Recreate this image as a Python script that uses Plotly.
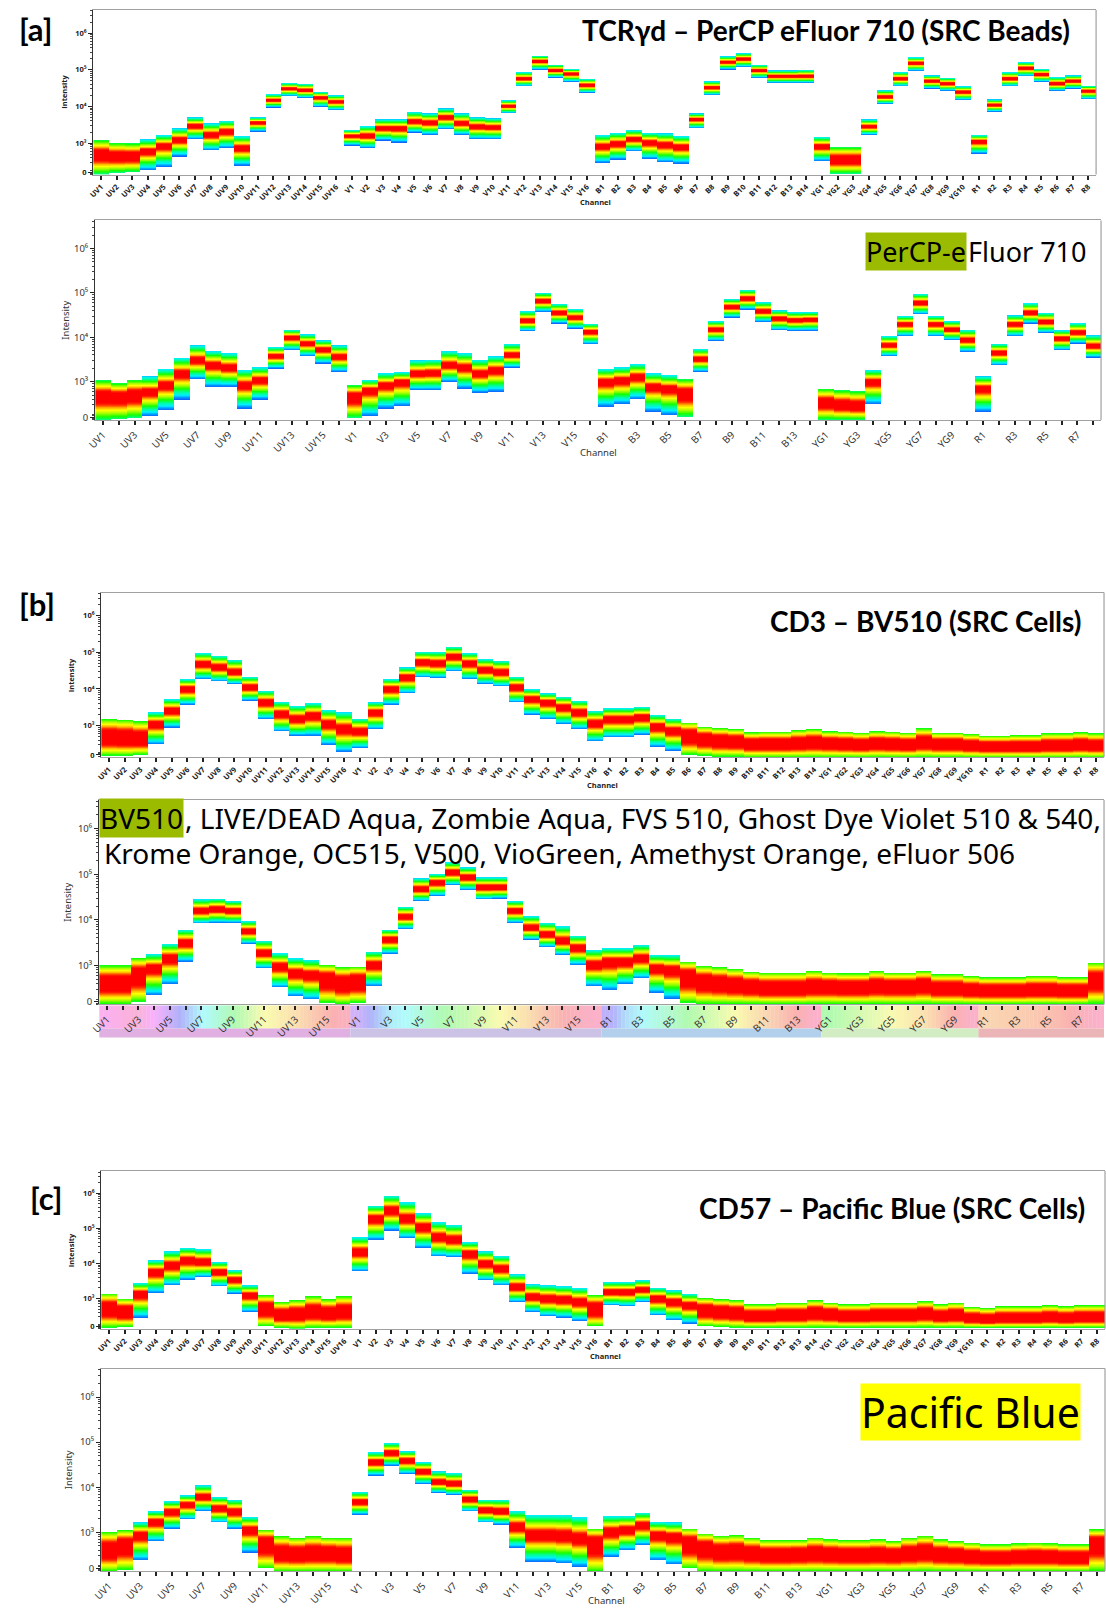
import colorsys
import numpy as np
import plotly.graph_objects as go

W, H = 1106, 1611

channels = ["UV1", "UV2", "UV3", "UV4", "UV5", "UV6", "UV7", "UV8", "UV9", "UV10", "UV11", "UV12",
            "UV13", "UV14", "UV15", "UV16",
            "V1", "V2", "V3", "V4", "V5", "V6", "V7", "V8", "V9", "V10", "V11", "V12", "V13", "V14",
            "V15", "V16",
            "B1", "B2", "B3", "B4", "B5", "B6", "B7", "B8", "B9", "B10", "B11", "B12", "B13", "B14",
            "YG1", "YG2", "YG3", "YG4", "YG5", "YG6", "YG7", "YG8", "YG9", "YG10",
            "R1", "R2", "R3", "R4", "R5", "R6", "R7", "R8"]
lasers = ["UV"] * 16 + ["V"] * 16 + ["B"] * 14 + ["YG"] * 10 + ["R"] * 8

# ---------------- [a] TCRgd - PerCP eFluor 710 (SRC Beads) ----------------
a1_high = [1230, 1040, 1000, 1280, 1680, 2540, 5050, 3470, 4100, 1580, 5050, 21500, 43600, 41900, 24900, 20200,
           2290, 2940, 4450, 4450, 7180, 6470, 8830, 6470, 5050, 4740, 14800, 86500, 244000, 139000, 106000, 57100,
           1680, 1940, 2290, 1940, 1860, 1580, 6470, 48400, 234000, 282000, 136000, 95900, 95900, 100000,
           1510, 780, 780, 4450, 27600, 86500, 220000, 70300, 60800, 35500,
           1680, 15500, 86500, 161000, 106000, 63400, 70300, 37000]
a1_mid = [484, 436, 436, 596, 847, 1230, 2940, 1680, 2070, 733, 3620, 14800, 30600, 27600, 17500, 13400,
          1580, 1580, 2540, 2540, 3850, 3620, 5050, 3470, 2820, 2700, 10200, 57100, 171000, 95900, 78000, 37800,
          813, 960, 1280, 1040, 902, 780, 4450, 32700, 161000, 198000, 95900, 66100, 66100, 66100,
          813, 355, 355, 2820, 18200, 57100, 151000, 49400, 41900, 24900,
          1110, 10900, 57100, 111000, 74800, 41900, 49400, 26500]
a1_low = [140, 155, 161, 182, 224, 436, 1280, 634, 733, 244, 2070, 9400, 19000, 17100, 9800, 7960,
          865, 733, 1180, 1040, 1940, 1680, 2390, 1680, 1280, 1280, 6470, 35500, 100000, 60800, 46500, 23400,
          288, 355, 596, 370, 300, 276, 2540, 20200, 102000, 118000, 59600, 43600, 43600, 43600,
          320, 148, 148, 1680, 11600, 35500, 92000, 30600, 26500, 14800,
          515, 7180, 35500, 66100, 46500, 26500, 30600, 15800]

# ---------------- PerCP-eFluor 710 reference ----------------
a2_high = [1090, 950, 1130, 1340, 2000, 3520, 6670, 4980, 4490, 1890, 2170, 6120, 15000, 11800, 8630, 6670,
           841, 1130, 1590, 1680, 3070, 3180, 4980, 4490, 3180, 3780, 7260, 39400, 102000, 57500, 44400, 20500,
           2000, 2170, 2580, 1590, 1460, 1150, 5620, 23500, 74700, 119000, 62800, 40700, 37400, 37400,
           708, 650, 617, 1890, 10800, 30400, 96600, 30400, 23500, 15000,
           1340, 7260, 31500, 59600, 36100, 14500, 21200, 11200]
a2_mid = [476, 460, 501, 596, 841, 1540, 3070, 2370, 2100, 841, 1090, 3780, 9910, 7260, 5330, 3650,
          460, 650, 841, 1000, 1540, 1590, 2370, 2100, 1540, 1830, 3970, 23500, 66100, 35500, 27900, 13300,
          1000, 1090, 1300, 773, 708, 547, 3230, 15000, 48400, 74700, 38700, 26500, 24300, 25200,
          337, 299, 284, 1000, 6670, 19800, 59600, 19800, 15000, 8630,
          708, 4490, 19800, 35500, 22300, 9420, 12800, 6320]
a2_low = [138, 143, 155, 169, 231, 401, 1150, 773, 773, 252, 401, 2000, 5150, 3780, 2580, 1680,
          155, 169, 252, 284, 650, 650, 1000, 708, 566, 596, 2100, 13800, 37400, 20500, 15800, 7020,
          274, 315, 408, 212, 178, 163, 1680, 8340, 27900, 42200, 22300, 14500, 14000, 14000,
          138, 138, 138, 315, 3780, 10600, 33200, 10600, 8630, 4720,
          212, 2370, 10600, 20500, 12600, 5150, 7260, 3520]

# ---------------- [b] CD3 - BV510 (SRC Cells) ----------------
b1_high = [1520, 1460, 1310, 2310, 5340, 18700, 95900, 81100, 63100, 21700, 9010, 4520, 3510, 4150, 2670, 2310,
           1580, 4330, 18700, 39000, 104000, 104000, 143000, 95900, 65800, 59300, 21700, 10000, 7620, 6180, 4810, 2570,
           3030, 3030, 3300, 2000, 1580, 1230, 939, 864, 811, 658, 686, 686, 762, 811,
           700, 686, 644, 700, 686, 644, 845, 644, 644, 593,
           533, 533, 556, 556, 618, 618, 658, 618]
b1_mid = [481, 461, 433, 1110, 2570, 10000, 48100, 39000, 28500, 11100, 4330, 2080, 1520, 1870, 1110, 811,
          700, 2310, 10000, 20800, 53400, 50100, 76200, 50100, 33000, 28500, 11100, 5340, 4330, 3160, 2310, 1160,
          1520, 1520, 1690, 939, 731, 533, 433, 390, 374, 316, 316, 316, 330, 351,
          330, 316, 303, 330, 316, 303, 351, 316, 316, 285,
          267, 267, 267, 267, 285, 285, 303, 285]
b1_low = [152, 152, 162, 316, 901, 3740, 18700, 16200, 13700, 4810, 1520, 700, 533, 533, 303, 195,
          246, 811, 3740, 7620, 20800, 19900, 30300, 18700, 13700, 11800, 4330, 2000, 1520, 1110, 811, 374,
          481, 481, 569, 267, 208, 162, 152, 143, 143, 137, 137, 137, 137, 137,
          137, 137, 137, 137, 137, 137, 137, 137, 137, 137,
          137, 137, 137, 137, 137, 137, 137, 137]

# ---------------- BV510 reference ----------------
b2_high = [1000, 1000, 1450, 1810, 3010, 6150, 28400, 29400, 26100, 9400, 3510, 1870, 1450, 1330, 1030, 919,
           951, 2040, 6150, 19500, 81300, 101000, 184000, 142000, 85500, 85500, 26100, 12100, 8650, 7290, 4530, 2220,
           2420, 2420, 2860, 1720, 1720, 1220, 984, 919, 844, 736, 700, 700, 700, 762,
           700, 676, 676, 762, 700, 700, 762, 643, 643, 591,
           552, 552, 552, 591, 591, 552, 552, 1160]
b2_mid = [406, 406, 623, 873, 1450, 3120, 15700, 17100, 15700, 5650, 1870, 951, 676, 623, 499, 406,
          443, 1030, 3700, 11700, 47200, 66400, 110000, 85500, 51400, 51400, 15700, 6700, 4760, 3400, 2420, 1030,
          1220, 1220, 1450, 873, 802, 571, 443, 406, 373, 343, 315, 315, 315, 343,
          343, 332, 332, 355, 343, 343, 373, 315, 315, 290,
          280, 280, 280, 290, 290, 280, 280, 482]
b2_low = [142, 142, 160, 224, 393, 1220, 8350, 8650, 8650, 3010, 873, 332, 213, 180, 152, 142,
          152, 355, 1810, 6370, 26100, 33600, 57900, 45600, 28400, 29400, 8650, 3700, 2550, 1720, 1030, 355,
          290, 393, 525, 253, 189, 152, 142, 142, 142, 142, 142, 142, 142, 142,
          142, 142, 142, 142, 142, 142, 142, 142, 142, 142,
          142, 142, 142, 142, 142, 142, 142, 142]

# ---------------- [c] CD57 - Pacific Blue (SRC Cells) ----------------
c1_high = [1390, 1000, 2780, 12200, 22000, 28000, 25700, 11000, 6370, 2390, 1240, 804, 897, 1160, 957, 1160,
           56200, 446000, 857000, 555000, 270000, 150000, 126000, 40500, 22000, 16300, 4910, 2550, 2390, 2240, 2010, 1240,
           2970, 2970, 3310, 2050, 1730, 1390, 1040, 957, 897, 690, 690, 769, 769, 897,
           769, 690, 690, 769, 769, 769, 840, 690, 769, 580,
           543, 606, 606, 606, 647, 606, 647, 647]
c1_mid = [520, 419, 1390, 5710, 8830, 12200, 11000, 5710, 3460, 1240, 520, 336, 359, 419, 375, 419,
          21100, 187000, 321000, 187000, 108000, 56200, 47300, 18900, 9840, 7100, 2140, 1110, 1000, 937, 804, 520,
          1550, 1550, 1800, 1000, 804, 647, 467, 419, 392, 315, 315, 336, 336, 392,
          359, 315, 315, 336, 336, 336, 375, 315, 336, 270,
          253, 270, 270, 270, 289, 270, 289, 289]
c1_low = [150, 157, 289, 1450, 2390, 3460, 4120, 2240, 1390, 419, 164, 150, 141, 150, 150, 150,
          5970, 47300, 86900, 52700, 28000, 15900, 15200, 5130, 3310, 2390, 804, 419, 315, 289, 232, 164,
          647, 606, 804, 336, 243, 195, 164, 157, 150, 150, 150, 150, 150, 150,
          150, 150, 150, 150, 150, 150, 150, 150, 150, 150,
          150, 150, 150, 150, 150, 150, 150, 150]

# ---------------- Pacific Blue reference ----------------
c2_high = [1030, 1130, 1660, 2950, 4900, 6640, 11000, 6100, 5320, 2210, 1160, 830, 763, 830, 763, 763,
           7850, 59600, 95700, 62700, 35900, 22400, 20600, 8830, 5320, 5320, 3000, 2450, 2450, 2450, 2210, 1220,
           2330, 2330, 2760, 1720, 1660, 1220, 951, 845, 873, 763, 678, 678, 678, 763,
           701, 678, 678, 701, 644, 763, 845, 701, 644, 593,
           545, 545, 573, 593, 573, 545, 545, 1180]
c2_mid = [408, 526, 873, 1720, 2850, 4130, 6100, 3380, 2850, 1130, 573, 345, 328, 345, 345, 317,
          4730, 35900, 57700, 39100, 22400, 13000, 12000, 5420, 3100, 2950, 1330, 873, 873, 845, 738, 573,
          1030, 1130, 1450, 873, 803, 573, 460, 375, 388, 345, 317, 317, 328, 345,
          328, 317, 317, 328, 317, 345, 375, 328, 317, 291,
          277, 277, 291, 291, 291, 277, 277, 573]
c2_low = [136, 148, 246, 644, 1220, 1960, 3000, 1660, 1220, 363, 161, 136, 136, 136, 136, 136,
          2490, 18300, 30300, 19900, 12000, 7590, 6850, 2950, 1660, 1500, 460, 226, 226, 208, 176, 136,
          291, 408, 526, 246, 198, 161, 136, 136, 136, 136, 136, 136, 136, 136,
          136, 136, 136, 136, 136, 136, 136, 136, 136, 136,
          136, 136, 136, 136, 136, 136, 136, 136]

for arr in [a1_high, a1_mid, a1_low, a2_high, a2_mid, a2_low, b1_high, b1_mid, b1_low,
            b2_high, b2_mid, b2_low, c1_high, c1_mid, c1_low, c2_high, c2_mid, c2_low]:
    assert len(arr) == len(channels), len(arr)

y_tick_vals = [1e3, 1e4, 1e5, 1e6]
y_tick_text = ["10³", "10⁴", "10⁵", "10⁶"]


def px(x):
    return x / W


def py(y):
    return 1 - y / H


Y_MIN, Y_MAX = 2.14, 6.63
ZERO_POS = 2.2
ygrid = np.round(np.arange(Y_MIN, Y_MAX + 1e-9, 0.005), 4)

COLORSCALE = [[0.00, "#1060ff"], [0.08, "#0098ff"], [0.17, "#00f0ff"], [0.30, "#00ff90"],
              [0.42, "#18ff00"], [0.55, "#b0ff00"], [0.64, "#ffff00"], [0.72, "#ffb000"],
              [0.80, "#ff3000"], [0.86, "#ff0000"], [1.00, "#ff0000"]]

BEAD = {"normal": (0.0, 0.13, 1.0), "cut": (0.30, 0.34, 1.25)}
CELL = {"normal": (0.02, 0.15, 1.1), "cut": (0.38, 0.40, 1.5)}


def band_matrix(low, mid, high, prof):
    lo = np.log10(np.asarray(low, float))
    c = np.log10(np.asarray(mid, float))
    hi = np.log10(np.asarray(high, float))
    Z = np.full((len(ygrid), len(lo)), np.nan)
    for j in range(len(lo)):
        eb, et, p = prof["cut"] if low[j] <= 165 else prof["normal"]
        below = (ygrid >= lo[j]) & (ygrid <= c[j])
        above = (ygrid > c[j]) & (ygrid <= hi[j])
        d = (c[j] - ygrid[below]) / max(c[j] - lo[j], 1e-6)
        Z[below, j] = 1 - (1 - eb) * d ** p
        d = (ygrid[above] - c[j]) / max(hi[j] - c[j], 1e-6)
        Z[above, j] = 1 - (1 - et) * d ** p
    return [[None if np.isnan(v) else round(float(v), 3) for v in row] for row in Z]


panels = [
    dict(low=a1_low, mid=a1_mid, high=a1_high, box=(84, 10, 1096, 175), prof=BEAD, full=True,
         ylab=55, chan=(591, 203)),
    dict(low=a2_low, mid=a2_mid, high=a2_high, box=(86, 221, 1101, 421), prof=BEAD, full=False,
         ylab=56, chan=(594, 454)),
    dict(low=b1_low, mid=b1_mid, high=b1_high, box=(92, 594, 1104, 759), prof=CELL, full=True,
         ylab=61, chan=(598, 787)),
    dict(low=b2_low, mid=b2_mid, high=b2_high, box=(90, 802, 1104, 1007), prof=CELL, full=False,
         ylab=58, chan=None),
    dict(low=c1_low, mid=c1_mid, high=c1_high, box=(92, 1174, 1105, 1332), prof=CELL, full=True,
         ylab=61, chan=(601, 1359)),
    dict(low=c2_low, mid=c2_mid, high=c2_high, box=(92, 1372, 1105, 1575), prof=CELL, full=False,
         ylab=59, chan=(602, 1604)),
]

minor_vals = ([np.log10(k * 10 ** n) for n in (3, 4, 5) for k in range(2, 10)]
              + [np.log10(k * 1e6) for k in (2, 3, 4)]
              + [np.log10(k * 100) for k in range(3, 10)]
              + [2.15, 2.17, 2.24, 2.26])

fig = go.Figure()
shapes = []
annotations = []
xs = list(range(len(channels)))

for i, pnl in enumerate(panels, start=1):
    sfx = "" if i == 1 else str(i)
    x0, y0, x1, y1 = pnl["box"]
    fig.add_trace(go.Heatmap(
        x=xs, y=ygrid, z=band_matrix(pnl["low"], pnl["mid"], pnl["high"], pnl["prof"]),
        colorscale=COLORSCALE, zmin=0, zmax=1, showscale=False, hoverinfo="skip",
        xaxis="x" + sfx, yaxis="y" + sfx))
    full = pnl["full"]
    if full:
        tick_text = channels
        tfont = dict(family="Open Sans", size=7.5, color="#222", weight="bold")
        yfont = dict(family="Open Sans", size=7.5, color="#222", weight="bold")
        lab_font = dict(family="Open Sans", size=7.5, color="#222", weight="bold")
    else:
        tick_text = [c if k % 2 == 0 else "" for k, c in enumerate(channels)]
        tfont = dict(family="Noto Sans", size=10, color="#333")
        yfont = dict(family="Noto Sans", size=9.5, color="#333")
        lab_font = dict(family="Noto Sans", size=9.5, color="#333")
    fig.layout["xaxis" + sfx] = dict(
        domain=[px(x0), px(x1)], anchor="y" + sfx, range=[-0.5, len(channels) - 0.5],
        tickmode="array", tickvals=xs, ticktext=tick_text, tickangle=-45, tickfont=tfont,
        ticks="outside", ticklen=4, tickwidth=1.5, tickcolor="#222",
        showline=True, linecolor="#a0a0a0", linewidth=1.2, mirror=True,
        showgrid=False, zeroline=False, fixedrange=True)
    fig.layout["yaxis" + sfx] = dict(
        domain=[py(y1), py(y0)], anchor="x" + sfx, range=[Y_MIN, Y_MAX],
        tickmode="array", tickvals=[ZERO_POS] + [float(np.log10(v)) for v in y_tick_vals],
        ticktext=["0"] + y_tick_text, tickfont=yfont,
        ticks="outside", ticklen=4, tickwidth=1.3, tickcolor="#222",
        minor=dict(tickmode="array", tickvals=minor_vals, ticks="outside", ticklen=2,
                   tickwidth=1, tickcolor="#444"),
        showline=True, linecolor="#333", linewidth=1.3, mirror=False,
        showgrid=False, zeroline=False, fixedrange=True)
    shapes.append(dict(type="line", xref="x%s domain" % sfx, yref="y%s domain" % sfx,
                       x0=1, x1=1, y0=0, y1=1, line=dict(color="#a0a0a0", width=1.2)))
    annotations.append(dict(xref="paper", yref="y%s domain" % sfx, x=px(pnl["ylab"]), y=0.5,
                            text="Intensity", textangle=-90, showarrow=False,
                            xanchor="center", yanchor="middle", font=lab_font))
    if pnl["chan"] is not None:
        cx, cy = pnl["chan"]
        annotations.append(dict(xref="paper", yref="paper", x=px(cx), y=py(cy), text="Channel",
                                showarrow=False, xanchor="center", yanchor="middle", font=lab_font))

# ---- laser / wavelength strip under the BV510 reference panel ----
hue_anchors = {
    "UV": ([0, 2, 4, 5, 6, 8, 10, 12, 15], [310, 330, 265, 225, 185, 125, 62, 38, -10]),
    "V": ([0, 1, 2, 3, 5, 7, 9, 11, 13, 15], [265, 230, 192, 180, 130, 100, 60, 35, 0, -20]),
    "B": ([0, 1, 2, 4, 6, 8, 10, 12, 13], [250, 205, 182, 140, 100, 60, 30, 0, -20]),
    "YG": ([0, 2, 4, 6, 8, 9], [120, 90, 60, 40, 0, -20]),
    "R": ([0, 3, 5, 7], [30, 20, 5, -20]),
}
group_color = {"UV": "#e0b0e2", "V": "#cbc2e6", "B": "#b2d0ec", "YG": "#d2ecc4", "R": "#ebb4b6"}
strip_top, strip_mid, strip_bot = 1008, 1031, 1040
local = {}
for k, las in enumerate(lasers):
    local.setdefault(las, []).append(k)
for las, idxs in local.items():
    pos, hues = hue_anchors[las]
    for n, k in enumerate(idxs):
        for s in range(4):
            p = n - 0.5 + (s + 0.5) / 4
            h = (np.interp(p, pos, hues) % 360) / 360.0
            r, g, b = colorsys.hls_to_rgb(h, 0.84, 0.9)
            col = "rgb(%d,%d,%d)" % (r * 255, g * 255, b * 255)
            shapes.append(dict(type="rect", xref="x4", yref="paper", layer="below",
                               x0=k - 0.5 + s / 4, x1=k - 0.5 + (s + 1) / 4 + 0.02,
                               y0=py(strip_mid), y1=py(strip_top),
                               fillcolor=col, line=dict(width=0)))
    shapes.append(dict(type="rect", xref="x4", yref="paper", layer="below",
                       x0=idxs[0] - 0.5, x1=idxs[-1] + 0.5, y0=py(strip_bot), y1=py(strip_mid),
                       fillcolor=group_color[las], line=dict(width=0)))


def text(x, y, s, size, anchor="left", bold=False, family="Noto Sans", bg=None):
    d = dict(xref="paper", yref="paper", x=px(x), y=py(y), text=s, showarrow=False,
             xanchor=anchor, yanchor="middle", borderpad=0,
             font=dict(family=family, size=size, color="black", weight="bold" if bold else "normal"))
    if bg:
        d["bgcolor"] = bg
    annotations.append(d)


HL_GREEN = "#9bbb00"
text(8, 29, "[a]", 31, bold=True, family="Lato")
text(1071, 30, "TCRγd – PerCP eFluor 710 (SRC Beads)", 28, anchor="right", bold=True, family="Lato")
text(966, 252, "PerCP-e", 27, anchor="right", bg=HL_GREEN)
text(966, 252, "Fluor 710", 27, anchor="left")
text(8, 606, "[b]", 31, bold=True, family="Lato")
text(1082, 623, "CD3 – BV510 (SRC Cells)", 28, anchor="right", bold=True, family="Lato")
text(176, 820, "BV510", 28, anchor="right", bg=HL_GREEN)
text(176, 820, ", LIVE/DEAD Aqua, Zombie Aqua, FVS 510, Ghost Dye Violet 510 & 540,", 28, anchor="left")
text(94, 855, "Krome Orange, OC515, V500, VioGreen, Amethyst Orange, eFluor 506", 28, anchor="left")
text(19, 1201, "[c]", 31, bold=True, family="Lato")
text(1086, 1211, "CD57 – Pacific Blue (SRC Cells)", 28, anchor="right", bold=True, family="Lato")
text(1081, 1416, "Pacific Blue", 41, anchor="right", bg="#ffff00")

fig.update_layout(
    width=W, height=H, margin=dict(l=0, r=0, t=0, b=0),
    paper_bgcolor="white", plot_bgcolor="white", showlegend=False,
    shapes=shapes, annotations=annotations,
    font=dict(family="Noto Sans", color="#222"),
)

fig.write_html("out.html")
